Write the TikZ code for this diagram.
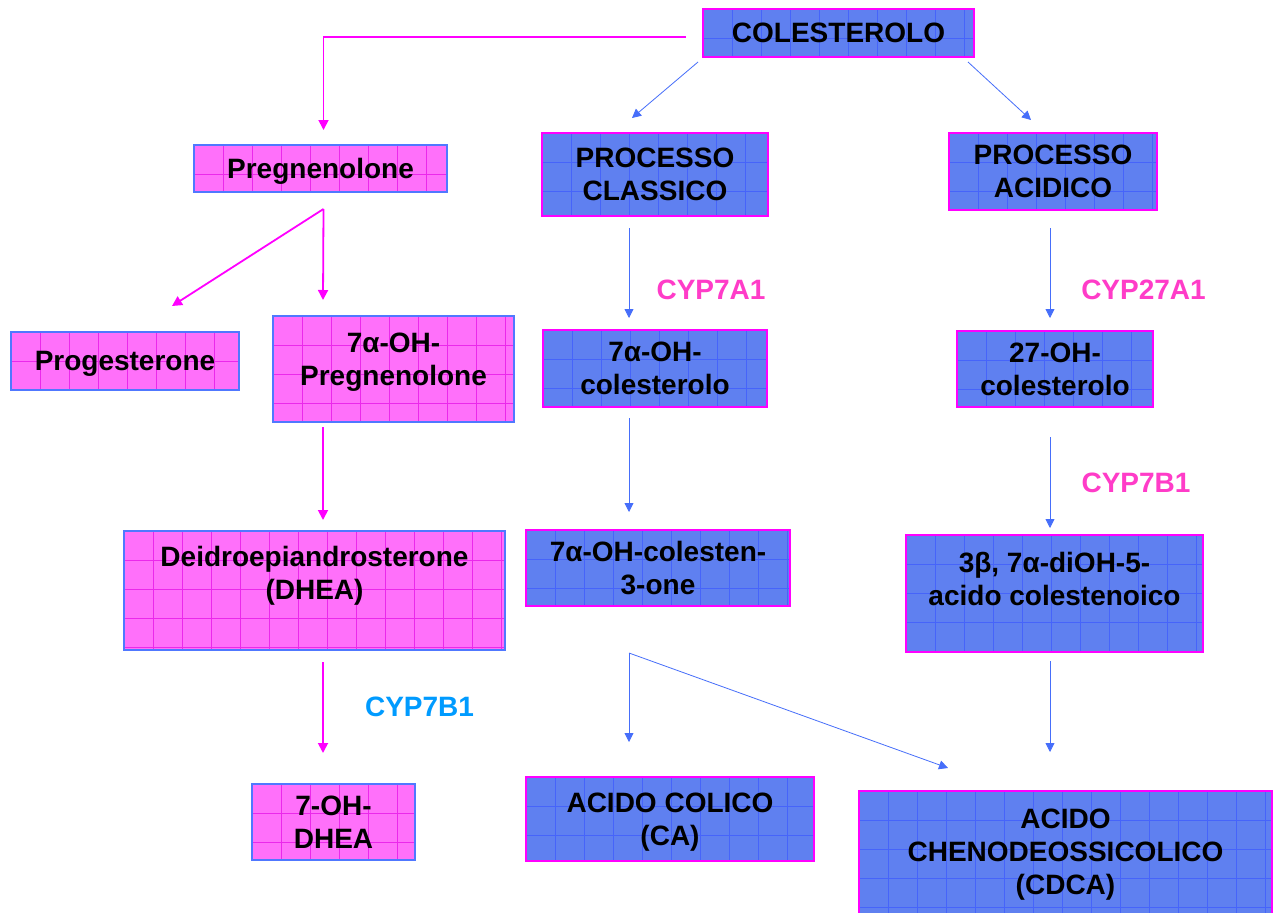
\documentclass[tikz,border=0pt]{standalone}
\usepackage{fontspec}
\setmainfont{Liberation Sans}
\usetikzlibrary{arrows.meta}
\definecolor{pinkfill}{RGB}{255,112,250}
\definecolor{pinkline}{RGB}{235,40,235}
\definecolor{bluefill}{RGB}{95,128,240}
\definecolor{blueline}{RGB}{70,100,250}
\definecolor{magbord}{RGB}{255,0,255}
\definecolor{bluebord}{RGB}{80,120,255}
\definecolor{arrmag}{RGB}{255,0,255}
\definecolor{arrblue}{RGB}{70,110,250}
\definecolor{labpink}{RGB}{255,60,200}
\definecolor{labblue}{RGB}{0,155,255}
\newcommand\gridlines[1]{%
  \foreach \i in {1,...,15}{\draw[#1,line width=0.7pt] ([xshift=\i*29pt]path picture bounding box.north west) -- ([xshift=\i*29pt]path picture bounding box.south west);}%
  \foreach \j in {1,...,5}{\draw[#1,line width=0.7pt] ([yshift=-\j*29pt]path picture bounding box.north west) -- ([yshift=-\j*29pt]path picture bounding box.north east);}%
}
\newcommand\boxfont{\bfseries\fontsize{28}{33}\selectfont}
\tikzset{
  gbox/.style={rectangle, line width=2pt, inner sep=0pt, align=center, font=\boxfont, text=black, text depth=0pt},
  pinkbox/.style={gbox, fill=pinkfill, draw=bluebord, path picture={\gridlines{pinkline}}},
  bluebox/.style={gbox, fill=bluefill, draw=magbord, path picture={\gridlines{blueline}}},
  boxtext/.style={inner sep=0pt, align=center, font=\boxfont, text=black},
  enzyme/.style={inner sep=0pt, font=\boxfont},
  magarrow/.style={draw=arrmag, line width=1.8pt, -{Triangle[length=10pt,width=10pt]}, arrmag},
  bluarrow/.style={draw=arrblue, line width=0.8pt, -{Triangle[length=9pt,width=9pt]}, arrblue},
}
\begin{document}
\begin{tikzpicture}[x=1pt,y=-1pt]
\useasboundingbox[fill=white] (0,0) rectangle (1280,913);
% boxes
\node[bluebox, minimum width=271pt, minimum height=48pt] (col) at (838.5,33) {COLESTEROLO};
\node[pinkbox, minimum width=253pt, minimum height=47pt] (preg) at (320.5,168.5) {Pregnenolone};
\node[bluebox, minimum width=226pt, minimum height=83pt] (pcl) at (655,174.5) {PROCESSO\\CLASSICO};
\node[bluebox, minimum width=208pt, minimum height=77pt] (pac) at (1053,171.5) {PROCESSO\\ACIDICO};
\node[pinkbox, minimum width=228pt, minimum height=58pt] (prog) at (125,361) {Progesterone};
\node[pinkbox, minimum width=241pt, minimum height=106pt] (p7) at (393.5,369) {};
\node[boxtext] (p7t) at (393.5,362.5) {7α-OH-\\Pregnenolone};
\node[bluebox, minimum width=224pt, minimum height=77pt] (c7) at (655,368.5) {7α-OH-\\colesterolo};
\node[bluebox, minimum width=196pt, minimum height=76pt] (c27) at (1055,369) {27-OH-\\colesterolo};
\node[pinkbox, minimum width=381pt, minimum height=119pt] (dhea) at (314.5,590.5) {};
\node[boxtext] (dheat) at (314.5,576) {Deidroepiandrosterone\\(DHEA)};
\node[bluebox, minimum width=264pt, minimum height=76pt] (c7one) at (658,568) {7α-OH-colesten-\\3-one};
\node[bluebox, minimum width=297pt, minimum height=117pt] (dioh) at (1054.5,593.5) {};
\node[boxtext] (dioht) at (1054.5,578.5) {3β, 7α-diOH-5-\\acido colestenoico};
\node[pinkbox, minimum width=163pt, minimum height=76pt] (dhea7) at (333.5,822) {7-OH-\\DHEA};
\node[bluebox, minimum width=288pt, minimum height=84pt] (ca) at (670,819) {ACIDO COLICO\\(CA)};
\node[bluebox, minimum width=413pt, minimum height=150pt] (cdca) at (1065.5,866) {};
\node[boxtext] (cdcat) at (1065.5,855) {ACIDO\\CHENODEOSSICOLICO\\(CDCA)};
% enzyme labels
\node[enzyme, text=labpink] (e1) at (711,290) {CYP7A1};
\node[enzyme, text=labpink] (e2) at (1143.5,290) {CYP27A1};
\node[enzyme, text=labpink] (e3) at (1136,483) {CYP7B1};
\node[enzyme, text=labblue] (e4) at (419.5,707) {CYP7B1};
% magenta connectors
\draw[magarrow] ([xshift=-16pt,yshift=-4pt]col.west) -| ([xshift=3pt,yshift=14pt]preg.north);
\coordinate (pregout) at ([xshift=3pt,yshift=-16pt]preg.south);
\draw[magarrow] (pregout) -- ([xshift=-70.5pt,yshift=15pt]p7.north);
\draw[magarrow] (pregout) -- ([xshift=47pt,yshift=25pt]prog.north);
\draw[magarrow] ([xshift=-70.5pt,yshift=-4pt]p7.south) -- ([xshift=8.5pt,yshift=10pt]dhea.north);
\draw[magarrow] ([xshift=8.5pt,yshift=-11pt]dhea.south) -- ([xshift=-10.5pt,yshift=30pt]dhea7.north);
% blue connectors
\draw[bluarrow] ([xshift=-4pt,yshift=-4pt]col.south west) -- ([xshift=-23pt,yshift=14pt]pcl.north);
\draw[bluarrow] ([xshift=-7pt,yshift=-4pt]col.south east) -- ([xshift=-22pt,yshift=12pt]pac.north);
\draw[bluarrow] ([xshift=-26pt,yshift=-11pt]pcl.south) -- ([xshift=-26pt,yshift=11pt]c7.north);
\draw[bluarrow] ([xshift=-26pt,yshift=-10pt]c7.south) -- ([xshift=-29pt,yshift=17pt]c7one.north);
\coordinate (split) at ([xshift=-29pt,yshift=-46pt]c7one.south);
\draw[bluarrow] (split) -- ([xshift=-41pt,yshift=34pt]ca.north);
\draw[bluarrow] (split) -- ([xshift=-117.5pt,yshift=22pt]cdca.north);
\draw[bluarrow] ([xshift=-3pt,yshift=-17pt]pac.south) -- ([xshift=-5pt,yshift=12pt]c27.north);
\draw[bluarrow] ([xshift=-5pt,yshift=-29pt]c27.south) -- ([xshift=-4.5pt,yshift=6pt]dioh.north);
\draw[bluarrow] ([xshift=-4.5pt,yshift=-8pt]dioh.south) -- ([xshift=-15.5pt,yshift=38pt]cdca.north);
\end{tikzpicture}
\end{document}
